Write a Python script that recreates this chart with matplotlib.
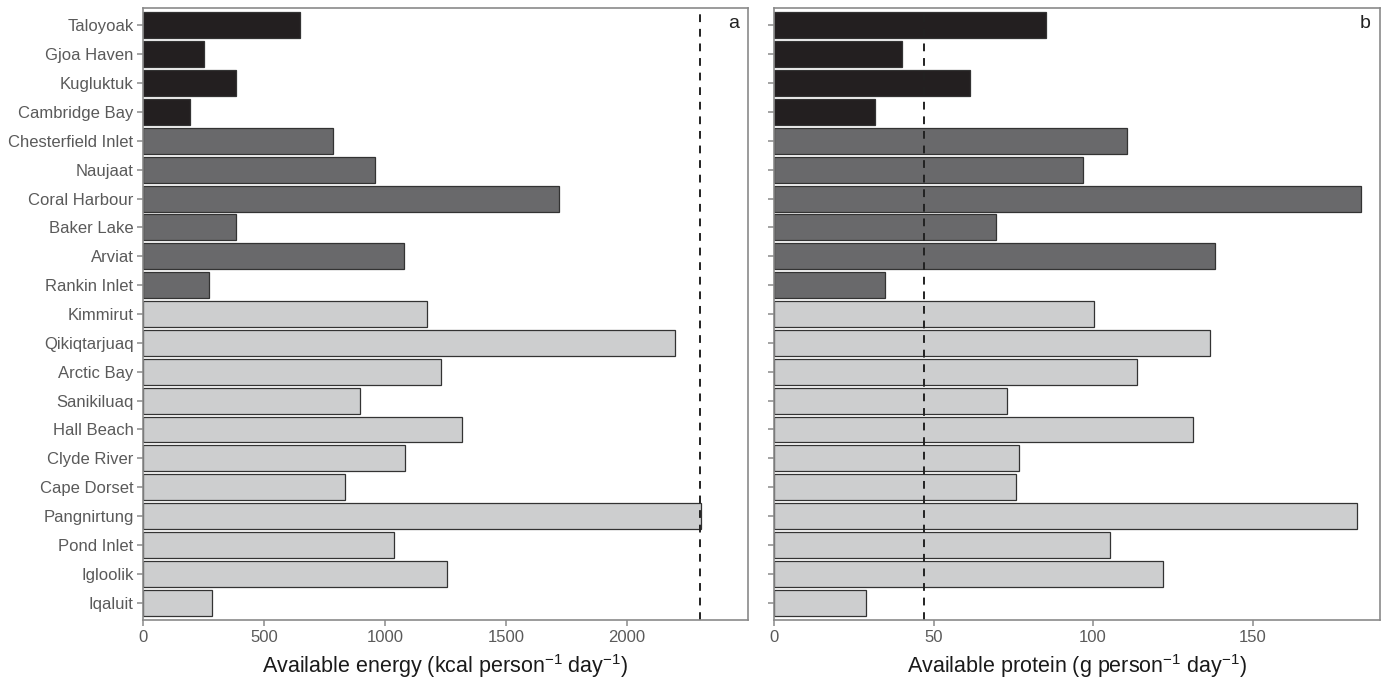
import matplotlib
matplotlib.use("Agg")
import matplotlib.pyplot as plt

plt.rcParams["font.family"] = ["Liberation Sans", "DejaVu Sans"]
plt.rcParams["mathtext.fontset"] = "custom"
plt.rcParams["mathtext.rm"] = "Liberation Sans"
plt.rcParams["mathtext.it"] = "Liberation Sans:italic"

# communities, top to bottom
communities = ["Taloyoak", "Gjoa Haven", "Kugluktuk", "Cambridge Bay",
               "Chesterfield Inlet", "Naujaat", "Coral Harbour", "Baker Lake",
               "Arviat", "Rankin Inlet", "Kimmirut", "Qikiqtarjuaq", "Arctic Bay",
               "Sanikiluaq", "Hall Beach", "Clyde River", "Cape Dorset",
               "Pangnirtung", "Pond Inlet", "Igloolik", "Iqaluit"]
# region group: 0 = Kitikmeot, 1 = Kivalliq, 2 = Qikiqtaaluk
regions = [0, 0, 0, 0, 1, 1, 1, 1, 1, 1, 2, 2, 2, 2, 2, 2, 2, 2, 2, 2, 2]

energy = [648, 252, 382, 195, 783, 958, 1717, 385, 1076, 273, 1172,
          2200, 1233, 897, 1317, 1083, 832, 2305, 1036, 1254, 286]
protein = [85.1, 40.1, 61.3, 31.8, 110.6, 97.0, 184.1, 69.7, 138.2, 34.7, 100.4,
           136.6, 113.8, 72.9, 131.3, 76.7, 75.7, 182.7, 105.4, 121.8, 28.9]

energy_req = 2300
protein_req = 47

region_colors = ["#231f20", "#69696b", "#cdcecf"]
colors = [region_colors[r] for r in regions]

fig = plt.figure(figsize=(13.83, 6.8), dpi=100)
ax1 = fig.add_axes([0.1036, 0.0882, 0.4372, 0.9])
ax2 = fig.add_axes([0.5597, 0.0882, 0.4382, 0.9])

ypos = list(range(len(communities)))[::-1]

panels = [
    (ax1, energy, energy_req, 2500, [0, 500, 1000, 1500, 2000],
     r"Available energy (kcal person$^{-1}$ day$^{-1}$)", "a"),
    (ax2, protein, protein_req, 190, [0, 50, 100, 150],
     r"Available protein (g person$^{-1}$ day$^{-1}$)", "b"),
]

for ax, vals, req, xmax, xt, xlabel, letter in panels:
    ax.barh(ypos, vals, height=0.9, color=colors, edgecolor="#333333", linewidth=0.9)
    ax.axvline(req, color="#222222", linestyle=(0, (4, 3.5)), linewidth=1.4)
    ax.set_xlim(0, xmax)
    ax.set_ylim(-0.6, len(communities) - 0.4)
    ax.set_xticks(xt)
    ax.set_yticks(ypos)
    ax.set_xlabel(xlabel, fontsize=15.5, color="#1a1a1a", labelpad=5)
    ax.text(0.985, 0.988, letter, transform=ax.transAxes, ha="right", va="top",
            fontsize=14, color="#222222")
    for sp in ax.spines.values():
        sp.set_color("#8a8a8a")
        sp.set_linewidth(1.2)
    ax.tick_params(axis="both", length=4, width=1.1, color="#8a8a8a",
                   labelcolor="#5a5a5a", labelsize=12, pad=3)

ax1.set_yticklabels(communities)
ax2.set_yticklabels([])

plt.savefig("out.png", dpi=100)
